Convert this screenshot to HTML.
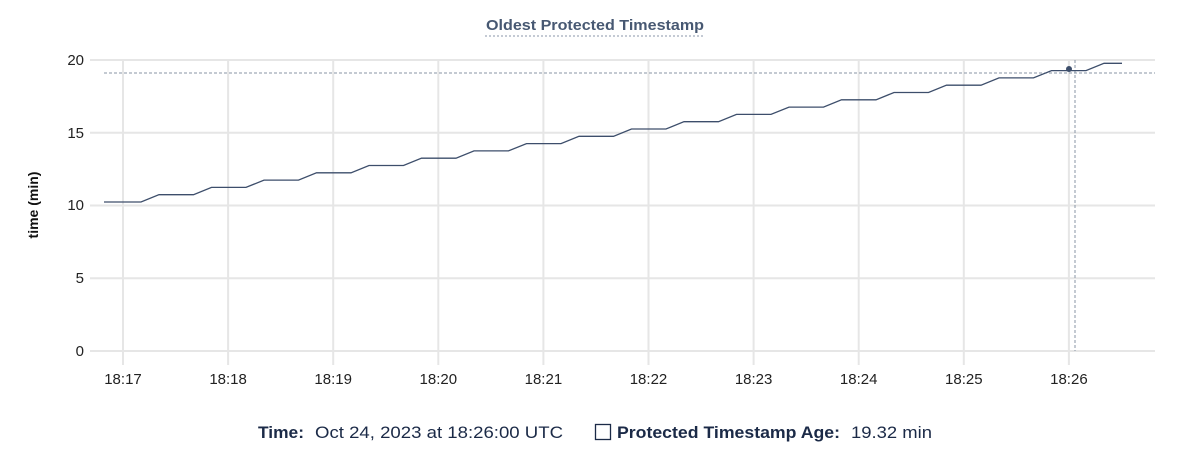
<!DOCTYPE html>
<html><head><style>
body{margin:0;background:#fff;font-family:"Liberation Sans",sans-serif;}
</style></head><body>
<svg width="1194" height="466" xmlns="http://www.w3.org/2000/svg" font-family="Liberation Sans, sans-serif">
<text x="486" y="30" font-size="15" font-weight="bold" fill="#475872" textLength="218" lengthAdjust="spacingAndGlyphs">Oldest Protected Timestamp</text>
<line x1="485" y1="36" x2="704" y2="36" stroke="#8a96aa" stroke-dasharray="2,2"/>
<g stroke="#e6e6e6" stroke-width="2">
<line x1="90" y1="60" x2="1155" y2="60"/><line x1="90" y1="132.75" x2="1155" y2="132.75"/>
<line x1="90" y1="205.5" x2="1155" y2="205.5"/><line x1="90" y1="278.25" x2="1155" y2="278.25"/>
<line x1="90" y1="351" x2="1155" y2="351"/>
</g>
<g stroke="#e6e6e6" stroke-width="2" id="vg"></g>
<g font-size="15" fill="#222" text-anchor="end">
<text x="84" y="65">20</text><text x="84" y="138">15</text><text x="84" y="210">10</text><text x="84" y="283">5</text><text x="84" y="356">0</text>
</g>
<g font-size="15" fill="#222" text-anchor="middle" id="xl"></g>
<text transform="translate(38,205) rotate(-90)" text-anchor="middle" font-size="14" font-weight="bold" fill="#111">time (min)</text>
<line x1="104" y1="73" x2="1155" y2="73" stroke="#8a96a6" stroke-dasharray="3,2"/>
<line x1="1075" y1="60" x2="1075" y2="351" stroke="#8a96a6" stroke-dasharray="3,2"/>
<polyline id="ln" fill="none" stroke="#3d4e6b" stroke-width="1.3"/>
<circle cx="1069" cy="69" r="3" fill="#3d4e6b"/>
<text x="258" y="438" font-size="17" font-weight="bold" fill="#1b2a47" textLength="46" lengthAdjust="spacingAndGlyphs">Time:</text>
<text x="315" y="438" font-size="17" fill="#1b2a47" textLength="248" lengthAdjust="spacingAndGlyphs">Oct 24, 2023 at 18:26:00 UTC</text>
<rect x="595.5" y="424.5" width="15" height="15" fill="none" stroke="#1b2a47" stroke-width="1.3"/>
<text x="617" y="438" font-size="17" font-weight="bold" fill="#1b2a47" textLength="223" lengthAdjust="spacingAndGlyphs">Protected Timestamp Age:</text>
<text x="851" y="438" font-size="17" fill="#1b2a47" textLength="81" lengthAdjust="spacingAndGlyphs">19.32 min</text>
</svg>
<script>
var vg=document.getElementById('vg'),xl=document.getElementById('xl'),ns="http://www.w3.org/2000/svg";
for(var i=0;i<10;i++){var x=123+105.1*i;var l=document.createElementNS(ns,'line');l.setAttribute('x1',x);l.setAttribute('x2',x);l.setAttribute('y1',60);l.setAttribute('y2',365);vg.appendChild(l);
var t=document.createElementNS(ns,'text');t.setAttribute('x',x);t.setAttribute('y',384);t.textContent='18:'+(17+i);xl.appendChild(t);}
var p=[];for(var i=0;i<20;i++){var y=202-7.3*i;var s=i==0?104:106.5+52.5*i;var e=Math.min(141+52.5*i,1122);p.push(s+','+y,e+','+y);}
document.getElementById('ln').setAttribute('points',p.join(' '));
</script>
</body></html>
